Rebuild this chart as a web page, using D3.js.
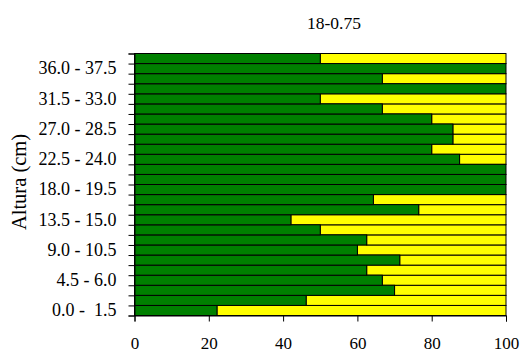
<!DOCTYPE html>
<html>
<head>
<meta charset="utf-8">
<script src="https://cdn.jsdelivr.net/npm/d3@7"></script>
<style>
  body { margin: 0; background: #fff; }
</style>
</head>
<body>
<div id="chart"></div>
<script>
const FONT = "'Liberation Serif', 'Times New Roman', Times, serif";

// Height classes, bottom to top
const classes = [
  "0.0 -  1.5", "1.5 -  3.0", "3.0 -  4.5", "4.5 - 6.0", "6.0 - 7.5", "7.5 - 9.0",
  "9.0 - 10.5", "10.5 - 12.0", "12.0 - 13.5", "13.5 - 15.0", "15.0 - 16.5", "16.5 - 18.0",
  "18.0 - 19.5", "19.5 - 21.0", "21.0 - 22.5", "22.5 - 24.0", "24.0 - 25.5", "25.5 - 27.0",
  "27.0 - 28.5", "28.5 - 30.0", "30.0 - 31.5", "31.5 - 33.0", "33.0 - 34.5", "34.5 - 36.0",
  "36.0 - 37.5", "37.5 - 39.0"
];
// green share (%) per class, the rest is yellow
const greenPct = [
  22.2, 46.2, 70, 66.7, 62.5, 71.4,
  60, 62.5, 50, 42.1, 76.5, 64.3,
  100, 100, 100, 87.5, 80, 85.7,
  85.7, 80, 66.7, 50, 100, 66.7,
  100, 50
];
const shownLabels = classes.filter((d, i) => i % 3 === 0);
const xTicks = [0, 20, 40, 60, 80, 100];
const title = "18-0.75";

const W = 520, H = 353;
const margin = {top: 53.5, right: 14, bottom: 37.5, left: 134.5},
      width = W - margin.left - margin.right,
      height = H - margin.top - margin.bottom;

const svg = d3.select("#chart").append("svg")
    .attr("width", W)
    .attr("height", H)
    .attr("font-family", FONT);

const g = svg.append("g")
    .attr("transform", `translate(${margin.left},${margin.top})`);

const x = d3.scaleLinear().domain([0, 100]).range([0, width]);
const y = d3.scaleBand().domain(classes).range([height, 0]).padding(0);
const yLin = d3.scaleLinear().domain([0, classes.length]).range([height, 0]);

const rows = classes.map((c, i) => ({cls: c, green: greenPct[i]}));

// yellow part (rest up to 100 %)
g.selectAll("rect.yel")
    .data(rows)
    .enter().append("rect")
    .attr("class", "yel")
    .attr("x", d => x(d.green))
    .attr("y", d => y(d.cls))
    .attr("width", d => x(100) - x(d.green))
    .attr("height", y.bandwidth())
    .attr("fill", "#ffff00")
    .attr("stroke", "#000")
    .attr("stroke-width", 1);

// green part
g.selectAll("rect.grn")
    .data(rows)
    .enter().append("rect")
    .attr("class", "grn")
    .attr("x", 0)
    .attr("y", d => y(d.cls))
    .attr("width", d => x(d.green))
    .attr("height", y.bandwidth())
    .attr("fill", "#008000")
    .attr("stroke", "#000")
    .attr("stroke-width", 1);

// y axis: ticks on band edges, labels every third class
g.append("g")
    .call(d3.axisLeft(yLin).tickValues(d3.range(classes.length + 1)).tickFormat("").tickSize(6))
    .call(a => a.select(".domain").attr("stroke", "#000"));

g.append("g")
    .call(d3.axisLeft(y).tickValues(shownLabels).tickSize(0).tickPadding(18))
    .call(a => a.select(".domain").remove())
    .selectAll("text")
    .attr("font-family", FONT)
    .attr("font-size", 18)
    .style("white-space", "pre");

// x axis
g.append("g")
    .attr("transform", `translate(0,${height})`)
    .call(d3.axisBottom(x).tickValues(xTicks).tickSize(6).tickPadding(15))
    .selectAll("text")
    .attr("font-family", FONT)
    .attr("font-size", 17);

g.selectAll(".tick line").attr("stroke", "#000");

// axis title
svg.append("text")
    .attr("transform", `translate(25.5,182) rotate(-90)`)
    .attr("text-anchor", "middle")
    .attr("font-family", FONT)
    .attr("font-size", 20.5)
    .text("Altura (cm)");

// chart title
svg.append("text")
    .attr("x", 334)
    .attr("y", 29)
    .attr("text-anchor", "middle")
    .attr("font-family", FONT)
    .attr("font-size", 17.5)
    .text(title);
</script>
</body>
</html>
